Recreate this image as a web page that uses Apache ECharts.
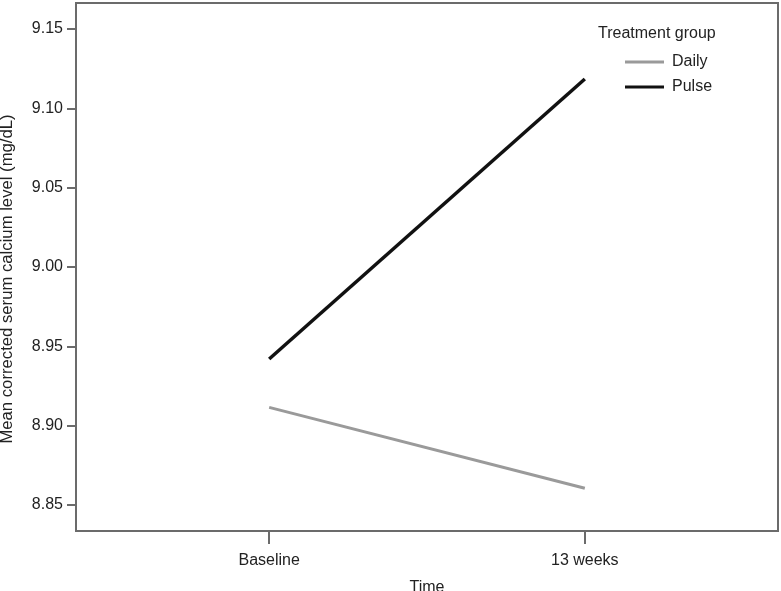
<!DOCTYPE html>
<html>
<head>
<meta charset="utf-8">
<script src="https://cdn.jsdelivr.net/npm/echarts@6/dist/echarts.min.js"></script>
<style>
  html, body { margin: 0; padding: 0; background: #fff; }
  #chart { width: 781px; height: 591px; }
</style>
</head>
<body>
<div id="chart"></div>
<script type="text/javascript">
    // time points (x positions 0 and 1)
    var timeLabels = ['Baseline', '13 weeks'];
    var dailyValues = [8.9115, 8.8605];
    var pulseValues = [8.942, 9.1185];
    var yTicks = [8.85, 8.90, 8.95, 9.00, 9.05, 9.10, 9.15];

    function pairs(vals) {
        var out = [];
        for (var i = 0; i < vals.length; i++) {
            out.push([i, vals[i]]);
        }
        return out;
    }

    var font = '"Liberation Sans", Arial, sans-serif';
    var axisGray = '#6b6b6b';

    var option = {
        animation: false,
        textStyle: { fontFamily: font },
        grid: {
            left: 76, right: 3, top: 3, bottom: 60,
            outerBoundsMode: 'none',
            show: true, borderColor: axisGray, borderWidth: 2,
            containLabel: false
        },
        title: {
            text: 'Treatment group',
            left: 593, top: 21,
            textStyle: { fontSize: 16, fontWeight: 'normal', color: '#222', fontFamily: font }
        },
        legend: {
            orient: 'vertical',
            left: 625, top: 54,
            padding: 0,
            icon: 'rect',
            itemWidth: 39, itemHeight: 3, itemGap: 9,
            textStyle: { fontSize: 16, color: '#222', fontFamily: font, padding: [0, 0, 0, 3] },
            data: ['Daily', 'Pulse']
        },
        xAxis: {
            type: 'value',
            min: -0.612, max: 1.612,
            name: 'Time',
            nameLocation: 'middle',
            nameGap: 49,
            nameTextStyle: { fontSize: 16, color: '#222' },
            splitLine: { show: false },
            axisLine: { show: true, onZero: false, lineStyle: { color: axisGray, width: 2 } },
            axisTick: { show: true, length: 13, lineStyle: { color: axisGray, width: 2 }, customValues: [0, 1] },
            axisLabel: {
                fontSize: 16, color: '#222', margin: 22,
                customValues: [0, 1],
                formatter: function (v) { return timeLabels[Math.round(v)]; }
            }
        },
        yAxis: {
            type: 'value',
            min: 8.8336, max: 9.1664,
            name: 'Mean corrected serum calcium level (mg/dL)',
            nameLocation: 'middle',
            nameGap: 60,
            nameTextStyle: { fontSize: 16.7, color: '#222', padding: [0, 24, 0, 0] },
            splitLine: { show: false },
            axisLine: { show: true, onZero: false, lineStyle: { color: axisGray, width: 2 } },
            axisTick: { show: true, length: 9, lineStyle: { color: axisGray, width: 2 }, customValues: yTicks },
            axisLabel: {
                fontSize: 16, color: '#222', margin: 13,
                customValues: yTicks,
                formatter: function (v) { return v.toFixed(2); }
            }
        },
        series: [
            {
                name: 'Daily',
                type: 'line',
                symbol: 'none',
                data: pairs(dailyValues),
                lineStyle: { color: '#9a9a9a', width: 3 },
                itemStyle: { color: '#9a9a9a' }
            },
            {
                name: 'Pulse',
                type: 'line',
                symbol: 'none',
                data: pairs(pulseValues),
                lineStyle: { color: '#111', width: 3.5 },
                itemStyle: { color: '#111' }
            }
        ]
    };

    var myChart = echarts.init(document.getElementById('chart'));
    myChart.setOption(option);
</script>
</body>
</html>
